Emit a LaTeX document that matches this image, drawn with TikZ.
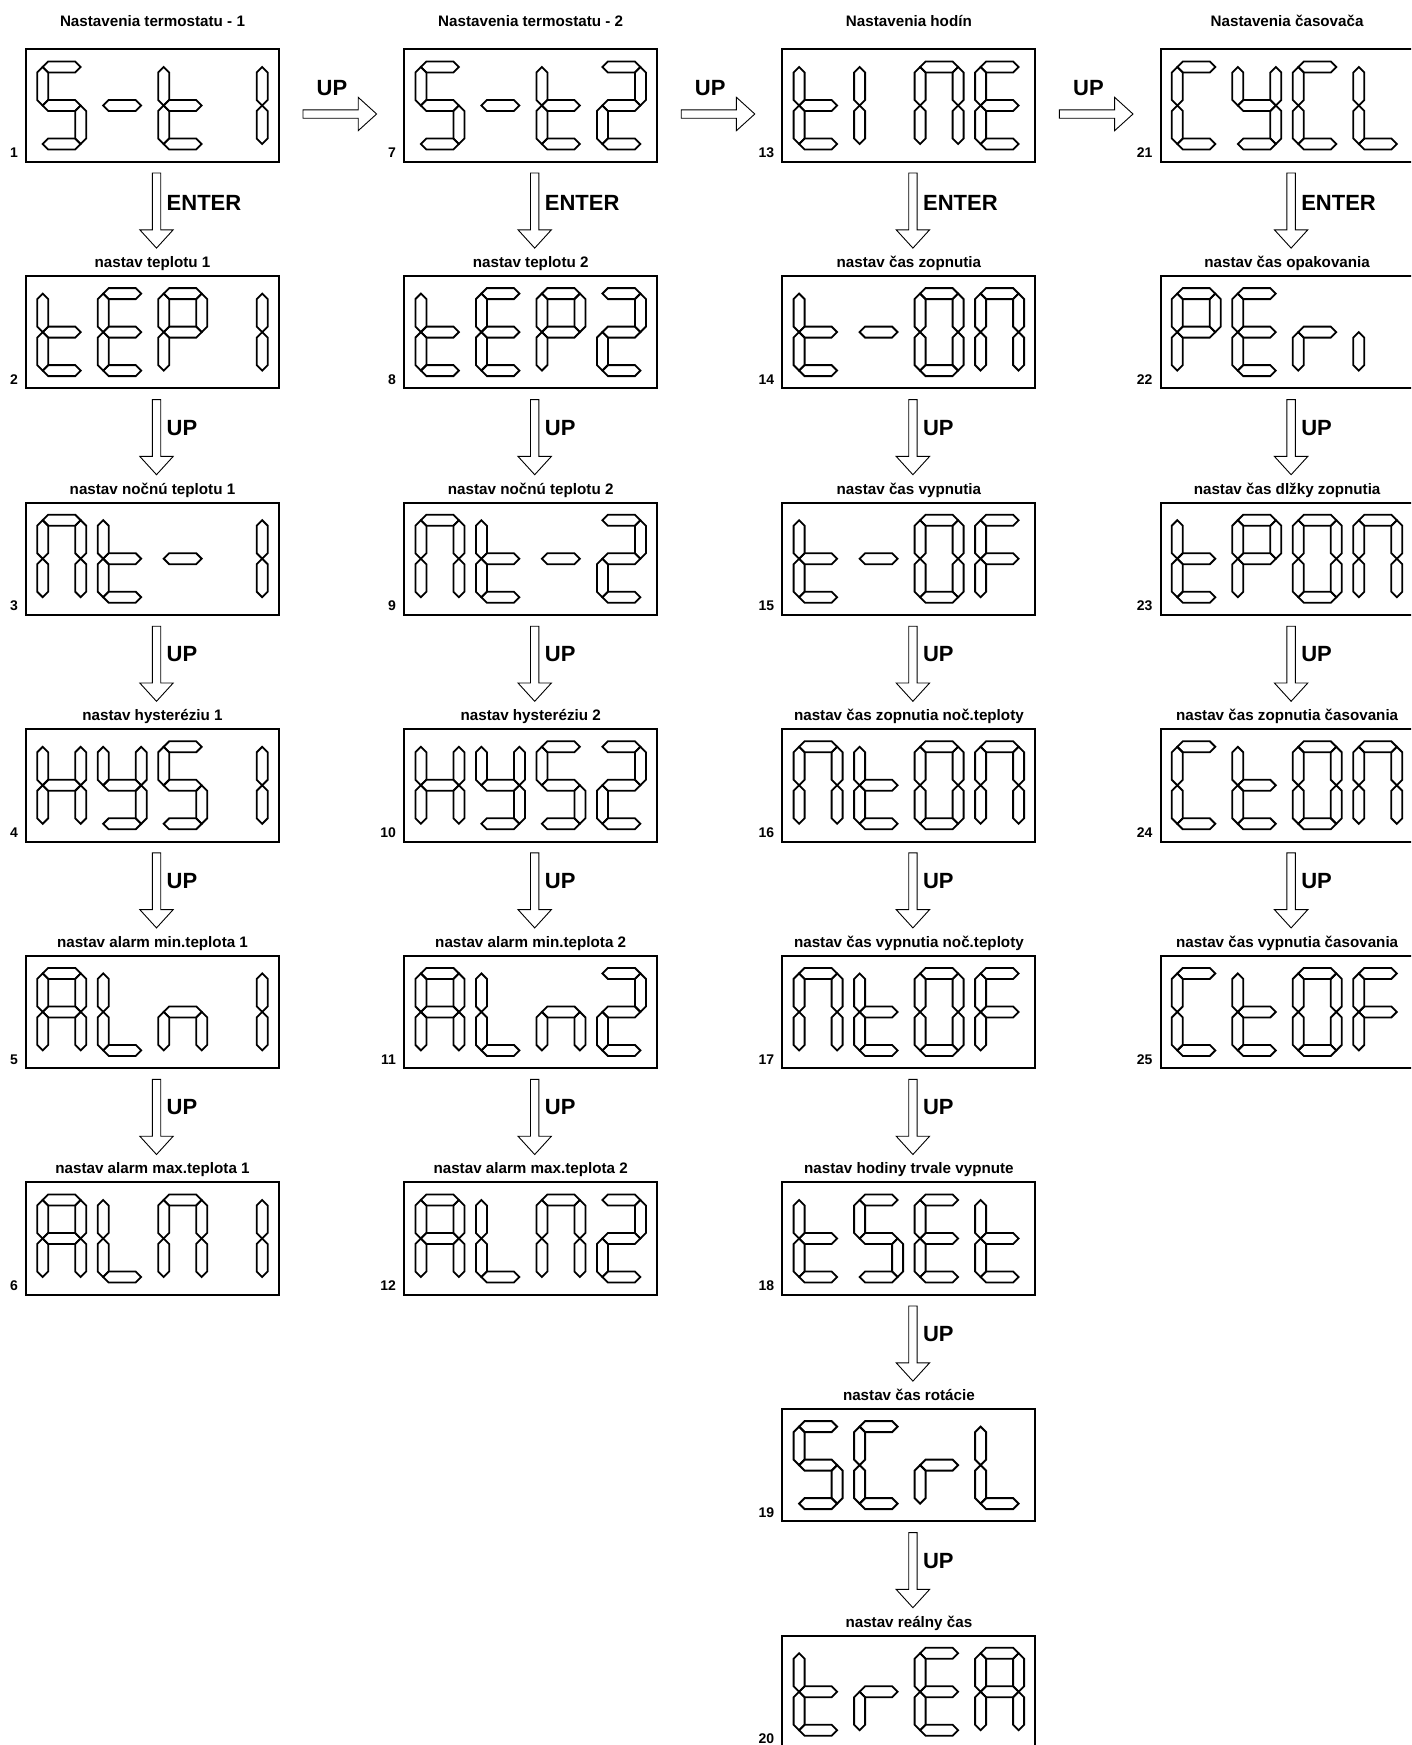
\documentclass[tikz,border=0pt]{standalone}
\usepackage{fontspec}
\setmainfont{Liberation Sans}
\usetikzlibrary{calc}
\newcommand\defch[2]{\expandafter\def\csname dg-#1\endcsname{#2}}
\defch{S}{a,f,g,c,d}
\defch{-}{g}
\defch{t}{f,e,g,d}
\defch{1}{b,c}
\defch{2}{a,b,g,e,d}
\defch{I}{f,e}
\defch{N}{a,b,c,e,f}
\defch{E}{a,f,g,e,d}
\defch{C}{a,f,e,d}
\defch{Y}{f,b,g,c,d}
\defch{L}{f,e,d}
\defch{P}{a,b,f,g,e}
\defch{0}{a,b,c,d,e,f}
\defch{F}{a,f,g,e}
\defch{r}{e,g}
\defch{i}{e}
\defch{n}{g,c,e}
\defch{A}{a,b,c,e,f,g}
\defch{H}{f,b,g,e,c}
\newcommand\Hs[2]{\draw[seg] (#1,#2) -- ++(5.5,-5.5) -- ++(27,0) -- ++(5.5,5.5) -- ++(-5.5,5.5) -- ++(-27,0) -- cycle;}
\newcommand\Vs[2]{\draw[seg] (#1,#2) -- ++(5.5,5.5) -- ++(0,27.5) -- ++(-5.5,5.5) -- ++(-5.5,-5.5) -- ++(0,-27.5) -- cycle;}
\newcommand\sga{\Hs{0}{0}}
\newcommand\sgb{\Vs{38}{0}}
\newcommand\sgc{\Vs{38}{38.5}}
\newcommand\sgd{\Hs{0}{77}}
\newcommand\sge{\Vs{0}{38.5}}
\newcommand\sgf{\Vs{0}{0}}
\newcommand\sgg{\Hs{0}{38.5}}
\newcommand\lcd[5]{%
  \node[lcd] (#1) at ({26+378.2*#2},{49.3+226.6*#3}) {};
  \node[num] (n#1) at ($(#1.south west)+(-8,-4)$) {#4};
  \foreach \dch [count=\k from 0] in {#5}{%
    \edef\seglist{\csname dg-\dch\endcsname}%
    \begin{scope}[shift={($(#1.north west)+({16.7+60.5*\k},17.7)$)}]
      \foreach \sgx in \seglist {\csname sg\sgx\endcsname}
    \end{scope}
  }%
}
\newcommand\darr[4]{%
  \path ($(#1.south)+(4,11.3)$) coordinate (sd#1) ($(#2.north)+(4,-27.8)$) coordinate (ed#1);
  \draw[blk] ($(sd#1)+(-4.2,0)$) -- ($(sd#1)+(4.2,0)$) -- ($(ed#1)+(4.2,-18.3)$) -- ($(ed#1)+(16.7,-18.3)$) -- (ed#1) -- ($(ed#1)+(-16.7,-18.3)$) -- ($(ed#1)+(-4.2,-18.3)$) -- cycle;
  \node[arrtxt] (kd#1) at ($(sd#1)+(10,#4)$) {#3};
}
\newcommand\harr[2]{%
  \path ($(#1.east)+(24,8.5)$) coordinate (sh#1) ($(#2.west)+(-27.6,8.5)$) coordinate (eh#1);
  \draw[blk] ($(sh#1)+(0,-4.2)$) -- ($(eh#1)+(-18.4,-4.2)$) -- ($(eh#1)+(-18.4,-16.7)$) -- (eh#1) -- ($(eh#1)+(-18.4,16.7)$) -- ($(eh#1)+(-18.4,4.2)$) -- ($(sh#1)+(0,4.2)$) -- cycle;
  \node[arrtxt,anchor=center] (kh#1) at ($(sh#1)+(29,-26)$) {UP};
}
\newcommand\lab[2]{\node[lbl] (l#1) at ($(#1.north)+(0,-8.5)$) {#2};}
\begin{document}
\begin{tikzpicture}[x=1pt,y=-1pt,
  seg/.style={draw=black,line width=1.8pt,line join=miter},
  lcd/.style={draw=black,line width=2pt,minimum width=253pt,minimum height=112.4pt,inner sep=0pt,outer sep=0pt,anchor=north west},
  blk/.style={draw=black,line width=0.9pt,fill=white,line join=miter},
  lbl/.style={font=\bfseries\fontsize{15.2}{17}\selectfont,anchor=base,inner sep=0pt},
  num/.style={font=\bfseries\fontsize{14}{16}\selectfont,anchor=base east,inner sep=0pt},
  arrtxt/.style={font=\bfseries\fontsize{22}{25}\selectfont,anchor=west,inner sep=0pt}]
\useasboundingbox (0,0) rectangle (1411,1745);
\clip (0,0) rectangle (1411,1745);
% column 1
\lcd{b1}{0}{0}{1}{S,-,t,1}
\lcd{b2}{0}{1}{2}{t,E,P,1}
\lcd{b3}{0}{2}{3}{N,t,-,1}
\lcd{b4}{0}{3}{4}{H,Y,S,1}
\lcd{b5}{0}{4}{5}{A,L,n,1}
\lcd{b6}{0}{5}{6}{A,L,N,1}
% column 2
\lcd{b7}{1}{0}{7}{S,-,t,2}
\lcd{b8}{1}{1}{8}{t,E,P,2}
\lcd{b9}{1}{2}{9}{N,t,-,2}
\lcd{b10}{1}{3}{10}{H,Y,S,2}
\lcd{b11}{1}{4}{11}{A,L,n,2}
\lcd{b12}{1}{5}{12}{A,L,N,2}
% column 3
\lcd{b13}{2}{0}{13}{t,I,N,E}
\lcd{b14}{2}{1}{14}{t,-,0,N}
\lcd{b15}{2}{2}{15}{t,-,0,F}
\lcd{b16}{2}{3}{16}{N,t,0,N}
\lcd{b17}{2}{4}{17}{N,t,0,F}
\lcd{b18}{2}{5}{18}{t,S,E,t}
\lcd{b19}{2}{6}{19}{S,C,r,L}
\lcd{b20}{2}{7}{20}{t,r,E,A}
% column 4
\lcd{b21}{3}{0}{21}{C,Y,C,L}
\lcd{b22}{3}{1}{22}{P,E,r,i}
\lcd{b23}{3}{2}{23}{t,P,0,N}
\lcd{b24}{3}{3}{24}{C,t,0,N}
\lcd{b25}{3}{4}{25}{C,t,0,F}
% titles
\node[lbl] (t1) at ($(b1.north)+(0,-23)$) {Nastavenia termostatu - 1};
\node[lbl] (t2) at ($(b7.north)+(0,-23)$) {Nastavenia termostatu - 2};
\node[lbl] (t3) at ($(b13.north)+(0,-23)$) {Nastavenia hodín};
\node[lbl] (t4) at ($(b21.north)+(0,-23)$) {Nastavenia časovača};
% labels
\lab{b2}{nastav teplotu 1}
\lab{b3}{nastav nočnú teplotu 1}
\lab{b4}{nastav hysteréziu 1}
\lab{b5}{nastav alarm min.teplota 1}
\lab{b6}{nastav alarm max.teplota 1}
\lab{b8}{nastav teplotu 2}
\lab{b9}{nastav nočnú teplotu 2}
\lab{b10}{nastav hysteréziu 2}
\lab{b11}{nastav alarm min.teplota 2}
\lab{b12}{nastav alarm max.teplota 2}
\lab{b14}{nastav čas zopnutia}
\lab{b15}{nastav čas vypnutia}
\lab{b16}{nastav čas zopnutia noč.teploty}
\lab{b17}{nastav čas vypnutia noč.teploty}
\lab{b18}{nastav hodiny trvale vypnute}
\lab{b19}{nastav čas rotácie}
\lab{b20}{nastav reálny čas}
\lab{b22}{nastav čas opakovania}
\lab{b23}{nastav čas dlžky zopnutia}
\lab{b24}{nastav čas zopnutia časovania}
\lab{b25}{nastav čas vypnutia časovania}
% horizontal arrows
\harr{b1}{b7}
\harr{b7}{b13}
\harr{b13}{b21}
% vertical arrows
\darr{b1}{b2}{ENTER}{30}
\darr{b2}{b3}{UP}{28}
\darr{b3}{b4}{UP}{28}
\darr{b4}{b5}{UP}{28}
\darr{b5}{b6}{UP}{28}
\darr{b7}{b8}{ENTER}{30}
\darr{b8}{b9}{UP}{28}
\darr{b9}{b10}{UP}{28}
\darr{b10}{b11}{UP}{28}
\darr{b11}{b12}{UP}{28}
\darr{b13}{b14}{ENTER}{30}
\darr{b14}{b15}{UP}{28}
\darr{b15}{b16}{UP}{28}
\darr{b16}{b17}{UP}{28}
\darr{b17}{b18}{UP}{28}
\darr{b18}{b19}{UP}{28}
\darr{b19}{b20}{UP}{28}
\darr{b21}{b22}{ENTER}{30}
\darr{b22}{b23}{UP}{28}
\darr{b23}{b24}{UP}{28}
\darr{b24}{b25}{UP}{28}
\end{tikzpicture}
\end{document}
